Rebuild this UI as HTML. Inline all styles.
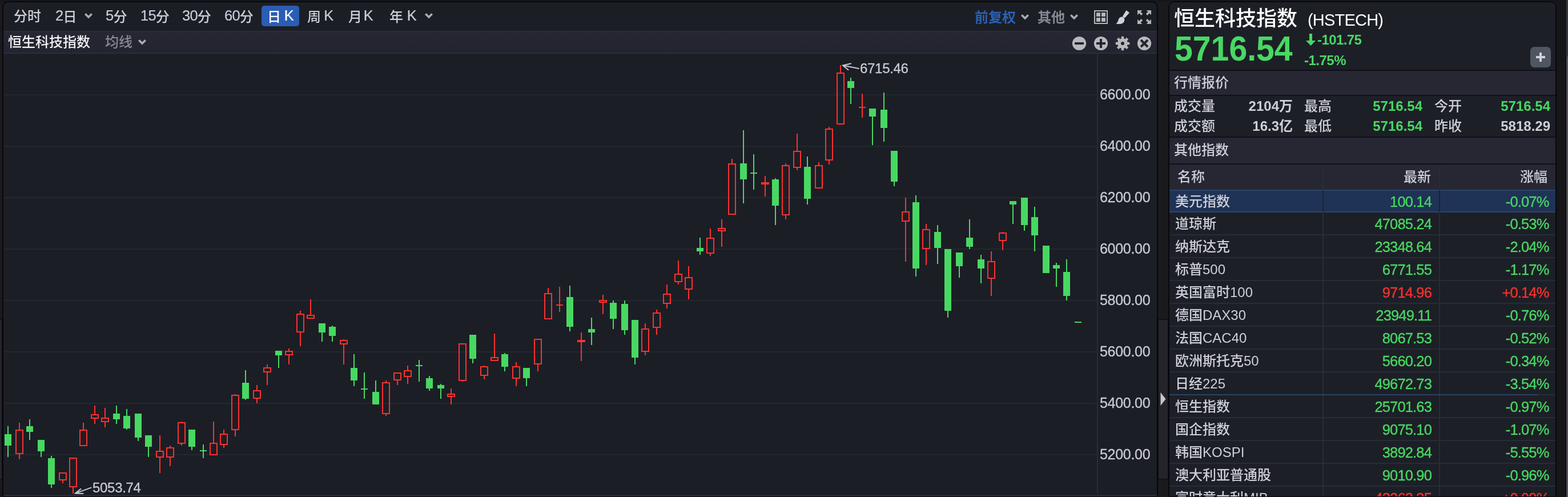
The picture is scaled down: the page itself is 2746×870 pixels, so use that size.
<!DOCTYPE html>
<html><head><meta charset="utf-8">
<style>
*{margin:0;padding:0;box-sizing:border-box}
html,body{width:2746px;height:870px;overflow:hidden;background:#1a1a1d}
body{position:relative;font-family:"Liberation Sans","Noto Sans CJK SC",sans-serif;color:#cdced8}
.abs{position:absolute}
#lp{position:absolute;left:6px;top:4px;width:2020px;height:865px;background:#1c1e26;border-radius:8px 8px 0 0;box-shadow:0 0 0 1.8px #06060d}
#band{position:absolute;left:0;top:50px;width:2020px;height:40px;background:linear-gradient(#262733,#232430);border-top:2px solid #272f39;border-bottom:2px solid #272f39}
.tb{position:absolute;top:0;font-size:24px;line-height:24px;white-space:nowrap;font-weight:500}
#chart{position:absolute;left:0;top:0}
.tb .l{font-size:25.5px;letter-spacing:-0.8px;-webkit-text-stroke:0.2px currentColor;position:relative;top:-1.3px}
.ax{font-family:"Liberation Sans",sans-serif;font-size:25px;letter-spacing:-0.3px;fill:#c9cad3;stroke:#c9cad3;stroke-width:0.3px}
#rp{position:absolute;left:2048px;top:4px;width:676px;height:865px;background:#1d1f27;border-radius:8px 8px 0 0;box-shadow:0 0 0 1.8px #06060d}
#rpi{position:absolute;left:0;top:0;width:676px;height:865px;border-radius:8px 8px 0 0;overflow:hidden}
.sec{position:absolute;left:0;width:677px;background:#262733}
.dk{position:absolute;left:0;width:677px;background:#0f1016}
.row{position:absolute;left:0;width:676px;height:40px;border-top:2px solid #262d38;font-size:24px;line-height:38px;font-weight:500}
.row.hl{background:#1f3356;border-top:2px solid #2d4468;border-bottom:2px solid #2d4468;height:40px;line-height:36px;z-index:1}
.row.hl .v,.row.hl .p,.row.hl .n{top:0.5px}
.row .n{position:absolute;left:10px;top:1px;color:#cdced8}
.row .v{position:absolute;right:217px;top:1px;font-size:25.5px;letter-spacing:-0.85px;-webkit-text-stroke:0.35px currentColor}
.row .p{position:absolute;right:11.5px;top:1px;font-size:25.5px;letter-spacing:-0.85px;-webkit-text-stroke:0.35px currentColor}
.cd{position:absolute;top:283.5px;width:2px;height:600px;background:#262d38;z-index:2}
</style></head><body>
<!-- side strips -->
<div class="abs" style="left:0;top:0;width:2746px;height:3px;background:#151619"></div>
<div class="abs" style="left:0;top:559.5px;width:3px;height:279px;background:#25242a;box-shadow:0 0 0 1.2px #0b0b11"></div>
<div class="abs" style="left:2029px;top:559.5px;width:16px;height:278.5px;background:#25242a;box-shadow:0 0 0 1.2px #0b0b11"></div>
<svg class="abs" style="left:2032px;top:687px" width="10" height="23" viewBox="0 0 10 23"><path d="M0.5 0 L9.5 11.5 L0.5 23 Z" fill="#c6c7d1"/></svg>
<div class="abs" style="left:2726px;top:0;width:20px;height:870px;background:#161619"></div>
<div class="abs" style="left:2743px;top:0;width:2.5px;height:99px;background:#36373c"></div>
<div class="abs" style="left:2744px;top:99px;width:1px;height:771px;background:#a5a5aa"></div>

<div id="lp">
  <div id="band"></div>
  <div class="abs" style="left:0;top:862px;width:2020px;height:3px;background:#272c37"></div>
  <div class="abs" style="left:1915px;top:90px;width:2px;height:770px;background:#262d38"></div>
</div>
<!-- top toolbar (page coords) -->
<div class="tb" style="left:24px;top:16.5px">分时</div>
<div class="tb" style="left:97px;top:16.5px"><span class="l">2</span>日</div>
<div class="tb" style="left:185px;top:16.5px"><span class="l">5</span>分</div>
<div class="tb" style="left:246px;top:16.5px"><span class="l">15</span>分</div>
<div class="tb" style="left:319px;top:16.5px"><span class="l">30</span>分</div>
<div class="tb" style="left:393px;top:16.5px"><span class="l">60</span>分</div>
<div class="abs" style="left:458px;top:10px;width:66px;height:36px;background:#2a5db3;border-radius:5px"></div>
<div class="tb" style="left:468px;top:16.5px;color:#fff">日 <span class="l" style="margin-left:-1px">K</span></div>
<div class="tb" style="left:538px;top:16.5px">周 <span class="l" style="margin-left:-1.5px">K</span></div>
<div class="tb" style="left:610px;top:16.5px">月 <span class="l" style="margin-left:-4px">K</span></div>
<div class="tb" style="left:682px;top:16.5px">年 <span class="l">K</span></div>
<svg class="abs" style="left:148px;top:23px" width="14" height="10" viewBox="0 0 14 10"><path d="M0 2.6 L2.6 0 L7 4.4 L11.4 0 L14 2.6 L7 9.6 Z" fill="#a9acb1"/></svg>
<svg class="abs" style="left:744px;top:23px" width="14" height="10" viewBox="0 0 14 10"><path d="M0 2.6 L2.6 0 L7 4.4 L11.4 0 L14 2.6 L7 9.6 Z" fill="#a9acb1"/></svg>
<div class="tb" style="left:1707px;top:18.5px;color:#2a64b8;-webkit-text-stroke:0.4px #2a64b8">前复权</div>
<svg class="abs" style="left:1788px;top:25px" width="14" height="10" viewBox="0 0 14 10"><path d="M0 2.6 L2.6 0 L7 4.4 L11.4 0 L14 2.6 L7 9.6 Z" fill="#a9acb1"/></svg>
<div class="tb" style="left:1817px;top:18.5px;color:#8a8b94;-webkit-text-stroke:0.4px #8a8b94">其他</div>
<svg class="abs" style="left:1874px;top:25px" width="14" height="10" viewBox="0 0 14 10"><path d="M0 2.6 L2.6 0 L7 4.4 L11.4 0 L14 2.6 L7 9.6 Z" fill="#a9acb1"/></svg>
<!-- grid icon -->
<svg class="abs" style="left:1916px;top:18px" width="24" height="24" viewBox="0 0 24 24"><path fill="#b3b5b9" fill-rule="evenodd" d="M0 0H24V24H0Z M2 2V22H22V2Z"/><path fill="#b3b5b9" d="M4 4h7v7H4z M13 4h7v7h-7z M4 13h7v7H4z M13 13h7v7h-7z"/></svg>
<!-- brush -->
<svg class="abs" style="left:1954px;top:18px" width="25" height="25" viewBox="0 0 25 25"><path fill="#d0d0da" d="M11.8 10.9 L18.4 0.1 L24 4.3 L15.7 13.6 Z"/><path fill="#d0d0da" d="M10.3 11.6 C12.5 11.2 14.6 12.6 15.2 15.2 C15.6 18.5 14.4 21.6 11 23.2 C8 24.2 3 24 0.3 24 C2.5 22.5 3.8 19.5 4.9 16 C5.6 13.5 7.5 12 10.3 11.6 Z"/></svg>
<!-- expand -->
<svg class="abs" style="left:1992px;top:18px" width="24" height="24" viewBox="0 0 24 24" fill="#b3b5b9">
<path d="M0 0 H8.3 L5.6 2.7 L9.2 6.3 L6.6 8.9 L3 5.3 L0 8.3Z"/>
<path d="M24 0 H15.7 L18.4 2.7 L14.8 6.3 L17.4 8.9 L21 5.3 L24 8.3Z"/>
<path d="M0 24 H8.3 L5.6 21.3 L9.2 17.7 L6.6 15.1 L3 18.7 L0 15.7Z"/>
<path d="M24 24 H15.7 L18.4 21.3 L14.8 17.7 L17.4 15.1 L21 18.7 L24 15.7Z"/>
</svg>
<!-- band contents -->
<div class="tb" style="left:14px;top:62px;color:#f2f2f4">恒生科技指数</div>
<div class="tb" style="left:184px;top:62px;color:#878995">均线</div>
<svg class="abs" style="left:242px;top:68.5px" width="14" height="10" viewBox="0 0 14 10"><path d="M0 2.6 L2.6 0 L7 4.4 L11.4 0 L14 2.6 L7 9.6 Z" fill="#a9acb1"/></svg>
<svg class="abs" style="left:1877px;top:63px" width="140" height="26" viewBox="0 0 140 26">
 <circle cx="13" cy="13" r="12.1" fill="#b7b9bd"/><rect x="5" y="11" width="16" height="4" fill="#23242f"/>
 <circle cx="51" cy="13" r="12.1" fill="#b7b9bd"/><rect x="43" y="11" width="16" height="4" fill="#23242f"/><rect x="49" y="5" width="4" height="16" fill="#23242f"/>
 <g transform="translate(89 13)" fill="#b7b9bd">
  <circle r="9"/>
  <g id="tooth"><rect x="-2.2" y="-12.2" width="4.4" height="6"/></g>
  <use href="#tooth" transform="rotate(45)"/><use href="#tooth" transform="rotate(90)"/><use href="#tooth" transform="rotate(135)"/>
  <use href="#tooth" transform="rotate(180)"/><use href="#tooth" transform="rotate(225)"/><use href="#tooth" transform="rotate(270)"/><use href="#tooth" transform="rotate(315)"/>
  <circle r="3" fill="#23242f"/>
 </g>
 <circle cx="127" cy="13" r="12.1" fill="#b7b9bd"/>
 <path d="M121 7 L133 19 M133 7 L121 19" stroke="#23242f" stroke-width="4"/>
</svg>

<svg id="chart" class="abs" style="left:0;top:0" width="2026" height="870" viewBox="0 0 2026 870">
<defs><clipPath id="cc"><rect x="6" y="93" width="1915" height="773"/></clipPath></defs>
<g clip-path="url(#cc)">
<rect x="6" y="165" width="1915" height="2" fill="#23272f"/>
<rect x="6" y="255" width="1915" height="2" fill="#23272f"/>
<rect x="6" y="345" width="1915" height="2" fill="#23272f"/>
<rect x="6" y="435" width="1915" height="2" fill="#23272f"/>
<rect x="6" y="525" width="1915" height="2" fill="#23272f"/>
<rect x="6" y="615" width="1915" height="2" fill="#23272f"/>
<rect x="6" y="705" width="1915" height="2" fill="#23272f"/>
<rect x="6" y="795" width="1915" height="2" fill="#23272f"/>
<rect x="13" y="746" width="2" height="54" fill="#48d862"/>
<rect x="8" y="760" width="12" height="20" fill="#48d862"/>
<rect x="33" y="740" width="2" height="12" fill="#fb312e"/>
<rect x="33" y="795" width="2" height="9" fill="#fb312e"/>
<rect x="28" y="753" width="12" height="41" fill="none" stroke="#fb312e" stroke-width="2"/>
<rect x="51" y="734" width="2" height="36" fill="#48d862"/>
<rect x="46" y="746" width="12" height="10" fill="#48d862"/>
<rect x="71" y="770" width="2" height="30" fill="#48d862"/>
<rect x="66" y="770" width="12" height="20" fill="#48d862"/>
<rect x="89" y="798" width="2" height="56" fill="#48d862"/>
<rect x="84" y="802" width="12" height="46" fill="#48d862"/>
<rect x="109" y="841" width="2" height="5" fill="#fb312e"/>
<rect x="104" y="828" width="12" height="12" fill="none" stroke="#fb312e" stroke-width="2"/>
<rect x="127" y="853" width="2" height="11" fill="#fb312e"/>
<rect x="122" y="802" width="12" height="50" fill="none" stroke="#fb312e" stroke-width="2"/>
<rect x="145" y="740" width="2" height="12" fill="#fb312e"/>
<rect x="140" y="753" width="12" height="27" fill="none" stroke="#fb312e" stroke-width="2"/>
<rect x="165" y="710" width="2" height="15" fill="#fb312e"/>
<rect x="165" y="733" width="2" height="9" fill="#fb312e"/>
<rect x="160" y="726" width="12" height="6" fill="none" stroke="#fb312e" stroke-width="2"/>
<rect x="183" y="714" width="2" height="17" fill="#fb312e"/>
<rect x="183" y="739" width="2" height="9" fill="#fb312e"/>
<rect x="178" y="732" width="12" height="6" fill="none" stroke="#fb312e" stroke-width="2"/>
<rect x="203" y="710" width="2" height="32" fill="#48d862"/>
<rect x="198" y="724" width="12" height="10" fill="#48d862"/>
<rect x="221" y="716" width="2" height="36" fill="#48d862"/>
<rect x="216" y="728" width="12" height="22" fill="#48d862"/>
<rect x="241" y="724" width="2" height="48" fill="#48d862"/>
<rect x="236" y="724" width="12" height="42" fill="#48d862"/>
<rect x="259" y="762" width="2" height="38" fill="#48d862"/>
<rect x="254" y="762" width="12" height="20" fill="#48d862"/>
<rect x="279" y="762" width="2" height="27" fill="#fb312e"/>
<rect x="279" y="801" width="2" height="27" fill="#fb312e"/>
<rect x="274" y="790" width="12" height="10" fill="none" stroke="#fb312e" stroke-width="2"/>
<rect x="297" y="780" width="2" height="3" fill="#fb312e"/>
<rect x="297" y="801" width="2" height="15" fill="#fb312e"/>
<rect x="292" y="784" width="12" height="16" fill="none" stroke="#fb312e" stroke-width="2"/>
<rect x="317" y="738" width="2" height="1" fill="#fb312e"/>
<rect x="317" y="777" width="2" height="3" fill="#fb312e"/>
<rect x="312" y="740" width="12" height="36" fill="none" stroke="#fb312e" stroke-width="2"/>
<rect x="335" y="752" width="2" height="36" fill="#48d862"/>
<rect x="330" y="752" width="12" height="30" fill="#48d862"/>
<rect x="355" y="778" width="2" height="24" fill="#48d862"/>
<rect x="350" y="788" width="12" height="2" fill="#48d862"/>
<rect x="373" y="738" width="2" height="37" fill="#fb312e"/>
<rect x="368" y="776" width="12" height="20" fill="none" stroke="#fb312e" stroke-width="2"/>
<rect x="391" y="752" width="2" height="7" fill="#fb312e"/>
<rect x="391" y="779" width="2" height="5" fill="#fb312e"/>
<rect x="386" y="760" width="12" height="18" fill="none" stroke="#fb312e" stroke-width="2"/>
<rect x="411" y="690" width="2" height="1" fill="#fb312e"/>
<rect x="411" y="753" width="2" height="11" fill="#fb312e"/>
<rect x="406" y="692" width="12" height="60" fill="none" stroke="#fb312e" stroke-width="2"/>
<rect x="429" y="648" width="2" height="52" fill="#48d862"/>
<rect x="424" y="670" width="12" height="28" fill="#48d862"/>
<rect x="449" y="674" width="2" height="9" fill="#fb312e"/>
<rect x="449" y="698" width="2" height="8" fill="#fb312e"/>
<rect x="444" y="684" width="12" height="13" fill="none" stroke="#fb312e" stroke-width="2"/>
<rect x="467" y="638" width="2" height="5" fill="#fb312e"/>
<rect x="467" y="652" width="2" height="22" fill="#fb312e"/>
<rect x="462" y="644" width="12" height="7" fill="none" stroke="#fb312e" stroke-width="2"/>
<rect x="487" y="614" width="2" height="30" fill="#48d862"/>
<rect x="482" y="614" width="12" height="8" fill="#48d862"/>
<rect x="505" y="610" width="2" height="4" fill="#fb312e"/>
<rect x="505" y="622" width="2" height="16" fill="#fb312e"/>
<rect x="500" y="615" width="12" height="6" fill="none" stroke="#fb312e" stroke-width="2"/>
<rect x="525" y="544" width="2" height="5" fill="#fb312e"/>
<rect x="525" y="582" width="2" height="24" fill="#fb312e"/>
<rect x="520" y="550" width="12" height="31" fill="none" stroke="#fb312e" stroke-width="2"/>
<rect x="543" y="524" width="2" height="27" fill="#fb312e"/>
<rect x="538" y="552" width="12" height="5" fill="none" stroke="#fb312e" stroke-width="2"/>
<rect x="563" y="566" width="2" height="32" fill="#48d862"/>
<rect x="558" y="566" width="12" height="16" fill="#48d862"/>
<rect x="581" y="570" width="2" height="28" fill="#48d862"/>
<rect x="576" y="572" width="12" height="16" fill="#48d862"/>
<rect x="601" y="594" width="2" height="1" fill="#fb312e"/>
<rect x="601" y="603" width="2" height="35" fill="#fb312e"/>
<rect x="596" y="596" width="12" height="6" fill="none" stroke="#fb312e" stroke-width="2"/>
<rect x="619" y="620" width="2" height="56" fill="#48d862"/>
<rect x="614" y="644" width="12" height="22" fill="#48d862"/>
<rect x="637" y="652" width="2" height="46" fill="#48d862"/>
<rect x="632" y="680" width="12" height="2" fill="#48d862"/>
<rect x="657" y="666" width="2" height="42" fill="#48d862"/>
<rect x="652" y="686" width="12" height="22" fill="#48d862"/>
<rect x="675" y="666" width="2" height="3" fill="#fb312e"/>
<rect x="675" y="725" width="2" height="3" fill="#fb312e"/>
<rect x="670" y="670" width="12" height="54" fill="none" stroke="#fb312e" stroke-width="2"/>
<rect x="695" y="666" width="2" height="8" fill="#fb312e"/>
<rect x="690" y="653" width="12" height="12" fill="none" stroke="#fb312e" stroke-width="2"/>
<rect x="713" y="640" width="2" height="8" fill="#fb312e"/>
<rect x="713" y="660" width="2" height="12" fill="#fb312e"/>
<rect x="708" y="649" width="12" height="10" fill="none" stroke="#fb312e" stroke-width="2"/>
<rect x="733" y="630" width="2" height="38" fill="#48d862"/>
<rect x="728" y="639" width="12" height="2" fill="#48d862"/>
<rect x="751" y="658" width="2" height="26" fill="#48d862"/>
<rect x="746" y="662" width="12" height="18" fill="#48d862"/>
<rect x="771" y="672" width="2" height="26" fill="#48d862"/>
<rect x="766" y="674" width="12" height="6" fill="#48d862"/>
<rect x="789" y="680" width="2" height="9" fill="#fb312e"/>
<rect x="789" y="695" width="2" height="13" fill="#fb312e"/>
<rect x="784" y="690" width="12" height="4" fill="none" stroke="#fb312e" stroke-width="2"/>
<rect x="809" y="667" width="2" height="1" fill="#fb312e"/>
<rect x="804" y="602" width="12" height="64" fill="none" stroke="#fb312e" stroke-width="2"/>
<rect x="827" y="586" width="2" height="50" fill="#48d862"/>
<rect x="822" y="586" width="12" height="42" fill="#48d862"/>
<rect x="847" y="640" width="2" height="1" fill="#fb312e"/>
<rect x="847" y="658" width="2" height="6" fill="#fb312e"/>
<rect x="842" y="642" width="12" height="15" fill="none" stroke="#fb312e" stroke-width="2"/>
<rect x="865" y="584" width="2" height="41" fill="#fb312e"/>
<rect x="860" y="626" width="12" height="5" fill="none" stroke="#fb312e" stroke-width="2"/>
<rect x="883" y="618" width="2" height="32" fill="#48d862"/>
<rect x="878" y="620" width="12" height="22" fill="#48d862"/>
<rect x="903" y="634" width="2" height="7" fill="#fb312e"/>
<rect x="903" y="663" width="2" height="13" fill="#fb312e"/>
<rect x="898" y="642" width="12" height="20" fill="none" stroke="#fb312e" stroke-width="2"/>
<rect x="921" y="644" width="2" height="32" fill="#48d862"/>
<rect x="916" y="644" width="12" height="18" fill="#48d862"/>
<rect x="941" y="638" width="2" height="12" fill="#fb312e"/>
<rect x="936" y="594" width="12" height="43" fill="none" stroke="#fb312e" stroke-width="2"/>
<rect x="959" y="504" width="2" height="9" fill="#fb312e"/>
<rect x="954" y="514" width="12" height="44" fill="none" stroke="#fb312e" stroke-width="2"/>
<rect x="979" y="502" width="2" height="31" fill="#fb312e"/>
<rect x="979" y="535" width="2" height="11" fill="#fb312e"/>
<rect x="974" y="533" width="12" height="2" fill="#fb312e"/>
<rect x="997" y="500" width="2" height="80" fill="#48d862"/>
<rect x="992" y="520" width="12" height="52" fill="#48d862"/>
<rect x="1017" y="582" width="2" height="13" fill="#fb312e"/>
<rect x="1017" y="599" width="2" height="33" fill="#fb312e"/>
<rect x="1011" y="595" width="14" height="4" fill="#fb312e"/>
<rect x="1035" y="556" width="2" height="48" fill="#48d862"/>
<rect x="1030" y="576" width="12" height="6" fill="#48d862"/>
<rect x="1055" y="516" width="2" height="9" fill="#fb312e"/>
<rect x="1055" y="530" width="2" height="20" fill="#fb312e"/>
<rect x="1050" y="526" width="12" height="3" fill="none" stroke="#fb312e" stroke-width="2"/>
<rect x="1073" y="526" width="2" height="50" fill="#48d862"/>
<rect x="1068" y="530" width="12" height="28" fill="#48d862"/>
<rect x="1093" y="526" width="2" height="60" fill="#48d862"/>
<rect x="1088" y="532" width="12" height="46" fill="#48d862"/>
<rect x="1111" y="560" width="2" height="78" fill="#48d862"/>
<rect x="1106" y="560" width="12" height="66" fill="#48d862"/>
<rect x="1129" y="566" width="2" height="9" fill="#fb312e"/>
<rect x="1129" y="616" width="2" height="6" fill="#fb312e"/>
<rect x="1124" y="576" width="12" height="39" fill="none" stroke="#fb312e" stroke-width="2"/>
<rect x="1149" y="542" width="2" height="5" fill="#fb312e"/>
<rect x="1149" y="574" width="2" height="12" fill="#fb312e"/>
<rect x="1144" y="548" width="12" height="25" fill="none" stroke="#fb312e" stroke-width="2"/>
<rect x="1167" y="498" width="2" height="16" fill="#fb312e"/>
<rect x="1167" y="532" width="2" height="8" fill="#fb312e"/>
<rect x="1162" y="515" width="12" height="16" fill="none" stroke="#fb312e" stroke-width="2"/>
<rect x="1187" y="456" width="2" height="23" fill="#fb312e"/>
<rect x="1187" y="494" width="2" height="4" fill="#fb312e"/>
<rect x="1182" y="480" width="12" height="13" fill="none" stroke="#fb312e" stroke-width="2"/>
<rect x="1205" y="466" width="2" height="19" fill="#fb312e"/>
<rect x="1205" y="507" width="2" height="17" fill="#fb312e"/>
<rect x="1200" y="486" width="12" height="20" fill="none" stroke="#fb312e" stroke-width="2"/>
<rect x="1225" y="416" width="2" height="30" fill="#48d862"/>
<rect x="1220" y="434" width="12" height="6" fill="#48d862"/>
<rect x="1243" y="400" width="2" height="16" fill="#fb312e"/>
<rect x="1243" y="444" width="2" height="4" fill="#fb312e"/>
<rect x="1238" y="417" width="12" height="26" fill="none" stroke="#fb312e" stroke-width="2"/>
<rect x="1263" y="384" width="2" height="15" fill="#fb312e"/>
<rect x="1263" y="405" width="2" height="27" fill="#fb312e"/>
<rect x="1258" y="400" width="12" height="4" fill="none" stroke="#fb312e" stroke-width="2"/>
<rect x="1281" y="278" width="2" height="8" fill="#fb312e"/>
<rect x="1276" y="287" width="12" height="88" fill="none" stroke="#fb312e" stroke-width="2"/>
<rect x="1301" y="228" width="2" height="128" fill="#48d862"/>
<rect x="1296" y="286" width="12" height="28" fill="#48d862"/>
<rect x="1319" y="270" width="2" height="62" fill="#48d862"/>
<rect x="1314" y="302" width="12" height="2" fill="#48d862"/>
<rect x="1339" y="308" width="2" height="11" fill="#fb312e"/>
<rect x="1339" y="323" width="2" height="21" fill="#fb312e"/>
<rect x="1333" y="319" width="14" height="4" fill="#fb312e"/>
<rect x="1357" y="312" width="2" height="82" fill="#48d862"/>
<rect x="1352" y="314" width="12" height="46" fill="#48d862"/>
<rect x="1375" y="286" width="2" height="3" fill="#fb312e"/>
<rect x="1375" y="377" width="2" height="7" fill="#fb312e"/>
<rect x="1370" y="290" width="12" height="86" fill="none" stroke="#fb312e" stroke-width="2"/>
<rect x="1395" y="234" width="2" height="30" fill="#fb312e"/>
<rect x="1395" y="294" width="2" height="4" fill="#fb312e"/>
<rect x="1390" y="265" width="12" height="28" fill="none" stroke="#fb312e" stroke-width="2"/>
<rect x="1413" y="274" width="2" height="84" fill="#48d862"/>
<rect x="1408" y="292" width="12" height="56" fill="#48d862"/>
<rect x="1433" y="284" width="2" height="5" fill="#fb312e"/>
<rect x="1428" y="290" width="12" height="39" fill="none" stroke="#fb312e" stroke-width="2"/>
<rect x="1451" y="222" width="2" height="3" fill="#fb312e"/>
<rect x="1451" y="281" width="2" height="7" fill="#fb312e"/>
<rect x="1446" y="226" width="12" height="54" fill="none" stroke="#fb312e" stroke-width="2"/>
<rect x="1471" y="114" width="2" height="13" fill="#fb312e"/>
<rect x="1466" y="128" width="12" height="89" fill="none" stroke="#fb312e" stroke-width="2"/>
<rect x="1489" y="136" width="2" height="46" fill="#48d862"/>
<rect x="1484" y="142" width="12" height="12" fill="#48d862"/>
<rect x="1509" y="164" width="2" height="23" fill="#fb312e"/>
<rect x="1509" y="189" width="2" height="17" fill="#fb312e"/>
<rect x="1504" y="187" width="12" height="2" fill="#fb312e"/>
<rect x="1527" y="190" width="2" height="64" fill="#48d862"/>
<rect x="1522" y="190" width="12" height="14" fill="#48d862"/>
<rect x="1547" y="162" width="2" height="86" fill="#48d862"/>
<rect x="1542" y="192" width="12" height="32" fill="#48d862"/>
<rect x="1565" y="264" width="2" height="62" fill="#48d862"/>
<rect x="1560" y="264" width="12" height="54" fill="#48d862"/>
<rect x="1585" y="346" width="2" height="24" fill="#fb312e"/>
<rect x="1585" y="388" width="2" height="70" fill="#fb312e"/>
<rect x="1580" y="371" width="12" height="16" fill="none" stroke="#fb312e" stroke-width="2"/>
<rect x="1603" y="342" width="2" height="142" fill="#48d862"/>
<rect x="1598" y="354" width="12" height="116" fill="#48d862"/>
<rect x="1621" y="392" width="2" height="9" fill="#fb312e"/>
<rect x="1621" y="436" width="2" height="28" fill="#fb312e"/>
<rect x="1616" y="402" width="12" height="33" fill="none" stroke="#fb312e" stroke-width="2"/>
<rect x="1641" y="394" width="2" height="68" fill="#48d862"/>
<rect x="1636" y="406" width="12" height="28" fill="#48d862"/>
<rect x="1659" y="436" width="2" height="120" fill="#48d862"/>
<rect x="1654" y="436" width="12" height="108" fill="#48d862"/>
<rect x="1679" y="442" width="2" height="44" fill="#48d862"/>
<rect x="1674" y="442" width="12" height="24" fill="#48d862"/>
<rect x="1697" y="384" width="2" height="52" fill="#48d862"/>
<rect x="1692" y="416" width="12" height="16" fill="#48d862"/>
<rect x="1717" y="446" width="2" height="50" fill="#48d862"/>
<rect x="1712" y="454" width="12" height="16" fill="#48d862"/>
<rect x="1735" y="440" width="2" height="17" fill="#fb312e"/>
<rect x="1735" y="488" width="2" height="30" fill="#fb312e"/>
<rect x="1730" y="458" width="12" height="29" fill="none" stroke="#fb312e" stroke-width="2"/>
<rect x="1755" y="406" width="2" height="1" fill="#fb312e"/>
<rect x="1755" y="422" width="2" height="16" fill="#fb312e"/>
<rect x="1750" y="408" width="12" height="13" fill="none" stroke="#fb312e" stroke-width="2"/>
<rect x="1773" y="352" width="2" height="40" fill="#48d862"/>
<rect x="1768" y="352" width="12" height="6" fill="#48d862"/>
<rect x="1793" y="346" width="2" height="58" fill="#48d862"/>
<rect x="1788" y="346" width="12" height="48" fill="#48d862"/>
<rect x="1811" y="362" width="2" height="78" fill="#48d862"/>
<rect x="1806" y="380" width="12" height="32" fill="#48d862"/>
<rect x="1831" y="430" width="2" height="48" fill="#48d862"/>
<rect x="1826" y="430" width="12" height="48" fill="#48d862"/>
<rect x="1849" y="460" width="2" height="42" fill="#48d862"/>
<rect x="1844" y="464" width="12" height="6" fill="#48d862"/>
<rect x="1867" y="454" width="2" height="72" fill="#48d862"/>
<rect x="1862" y="476" width="12" height="42" fill="#48d862"/>
<rect x="1887" y="563" width="2" height="2" fill="#48d862"/>
<rect x="1882" y="563" width="12" height="2" fill="#48d862"/>
</g>
<text x="1926" y="173.8" class="ax">6600.00</text>
<text x="1926" y="263.8" class="ax">6400.00</text>
<text x="1926" y="353.8" class="ax">6200.00</text>
<text x="1926" y="443.7" class="ax">6000.00</text>
<text x="1926" y="533.7" class="ax">5800.00</text>
<text x="1926" y="623.7" class="ax">5600.00</text>
<text x="1926" y="713.7" class="ax">5400.00</text>
<text x="1926" y="803.7" class="ax">5200.00</text>
<!-- annotations -->
<path d="M1504 120.1 L1476 114.5 M1490 111.3 L1476 114.5 L1485.5 122.3" stroke="#c8c9d3" stroke-width="2" fill="none" stroke-linecap="round"/>
<text x="1506" y="128.4" class="ax" style="font-size:24px">6715.46</text>
<path d="M159.5 853.6 L132 863.6 M141.5 855.8 L132 863.6 L145.5 864" stroke="#c8c9d3" stroke-width="2" fill="none" stroke-linecap="round"/>
<text x="162" y="862.2" class="ax" style="font-size:24px">5053.74</text>
</svg>

<!-- right panel -->
<div id="rp"><div id="rpi">
  <div class="dk" style="top:118px;height:2px"></div>
  <div class="sec" style="top:120px;height:42px"></div>
  <div class="dk" style="top:162px;height:2px"></div>
  <div class="dk" style="top:235px;height:2px"></div>
  <div class="sec" style="top:237px;height:45px"></div>
  <div class="dk" style="top:281.5px;height:2px"></div>
  <div class="sec" style="top:283.5px;height:44px"></div>
  <div class="row hl" style="top:328px"><span class="n">美元指数</span><span class="v" style="color:#48d862">100.14</span><span class="p" style="color:#48d862">-0.07%</span></div>
<div class="row" style="top:366px;border-top-color:transparent;"><span class="n">道琼斯</span><span class="v" style="color:#48d862">47085.24</span><span class="p" style="color:#48d862">-0.53%</span></div>
<div class="row" style="top:406px;"><span class="n">纳斯达克</span><span class="v" style="color:#48d862">23348.64</span><span class="p" style="color:#48d862">-2.04%</span></div>
<div class="row" style="top:446px;"><span class="n">标普500</span><span class="v" style="color:#48d862">6771.55</span><span class="p" style="color:#48d862">-1.17%</span></div>
<div class="row" style="top:486px;"><span class="n">英国富时100</span><span class="v" style="color:#fb312e">9714.96</span><span class="p" style="color:#fb312e">+0.14%</span></div>
<div class="row" style="top:526px;"><span class="n">德国DAX30</span><span class="v" style="color:#48d862">23949.11</span><span class="p" style="color:#48d862">-0.76%</span></div>
<div class="row" style="top:566px;"><span class="n">法国CAC40</span><span class="v" style="color:#48d862">8067.53</span><span class="p" style="color:#48d862">-0.52%</span></div>
<div class="row" style="top:606px;"><span class="n">欧洲斯托克50</span><span class="v" style="color:#48d862">5660.20</span><span class="p" style="color:#48d862">-0.34%</span></div>
<div class="row" style="top:646px;"><span class="n">日经225</span><span class="v" style="color:#48d862">49672.73</span><span class="p" style="color:#48d862">-3.54%</span></div>
<div class="row" style="top:686px;"><span class="n">恒生指数</span><span class="v" style="color:#48d862">25701.63</span><span class="p" style="color:#48d862">-0.97%</span></div>
<div class="row" style="top:726px;"><span class="n">国企指数</span><span class="v" style="color:#48d862">9075.10</span><span class="p" style="color:#48d862">-1.07%</span></div>
<div class="row" style="top:766px;"><span class="n">韩国KOSPI</span><span class="v" style="color:#48d862">3892.84</span><span class="p" style="color:#48d862">-5.55%</span></div>
<div class="row" style="top:806px;"><span class="n">澳大利亚普通股</span><span class="v" style="color:#48d862">9010.90</span><span class="p" style="color:#48d862">-0.96%</span></div>
<div class="row" style="top:846px;"><span class="n">富时意大利MIB</span><span class="v" style="color:#fb312e">43263.35</span><span class="p" style="color:#fb312e">+0.09%</span></div>
  <div class="cd" style="left:268px"></div>
  <div class="abs" style="left:268px;top:330px;width:2px;height:36px;background:#1b2435;z-index:3"></div>
  <div class="abs" style="left:0;top:686px;width:646px;height:2px;background:#2b4266;z-index:3"></div>
  <div class="cd" style="left:472px"></div>
  <div class="abs" style="left:472px;top:330px;width:2px;height:36px;background:#1b2435;z-index:3"></div>
</div></div>
<!-- right panel text (page coords) -->
<div class="abs" style="left:2056px;top:11px;font-size:36px;line-height:44px;color:#fff;font-weight:500">恒生科技指数</div>
<div class="abs" style="left:2290px;top:17px;font-size:29px;line-height:36px;color:#fff;letter-spacing:-0.8px">(HSTECH)</div>
<div class="abs" style="left:2057px;top:54px;font-size:62px;line-height:62px;color:#48d862;font-weight:bold;transform:scaleX(0.922);transform-origin:0 0">5716.54</div>
<svg class="abs" style="left:2287px;top:59px" width="17" height="21" viewBox="0 0 17 21"><path d="M6 0H11V12H17L8.5 21L0 12H6Z" fill="#48d862"/></svg>
<div class="abs" style="left:2307px;top:56px;font-size:24px;line-height:28px;color:#48d862;font-weight:bold;letter-spacing:-0.6px">-101.75</div>
<div class="abs" style="left:2284px;top:92px;font-size:24px;line-height:28px;color:#48d862;font-weight:bold;letter-spacing:-0.5px">-1.75%</div>
<div class="abs" style="left:2680px;top:82px;width:36px;height:36px;background:#4f5662;border-radius:7px"></div>
<div class="abs" style="left:2690px;top:98px;width:16px;height:4px;background:#d0d1dc"></div>
<div class="abs" style="left:2696px;top:92px;width:4px;height:16px;background:#d0d1dc"></div>

<div class="tb" style="left:2056px;top:133px">行情报价</div>
<div class="tb" style="left:2056px;top:174px">成交量</div>
<div class="tb" style="left:2056px;top:209px">成交额</div>
<div class="tb" style="left:2284px;top:174px">最高</div>
<div class="tb" style="left:2284px;top:209px">最低</div>
<div class="tb" style="left:2512px;top:174px">今开</div>
<div class="tb" style="left:2512px;top:209px">昨收</div>
<div class="tb" style="right:482px;top:174px;font-weight:bold">2104万</div>
<div class="tb" style="right:482px;top:209px;font-weight:bold">16.3亿</div>
<div class="tb" style="right:255px;top:174px;font-weight:bold;color:#48d862">5716.54</div>
<div class="tb" style="right:255px;top:209px;font-weight:bold;color:#48d862">5716.54</div>
<div class="tb" style="right:31px;top:174px;font-weight:bold;color:#48d862">5716.54</div>
<div class="tb" style="right:31px;top:209px;font-weight:bold">5818.29</div>
<div class="tb" style="left:2056px;top:251px">其他指数</div>
<div class="tb" style="left:2062px;top:298px">名称</div>
<div class="tb" style="right:240px;top:298px">最新</div>
<div class="tb" style="right:36px;top:298px">涨幅</div>
</body></html>
